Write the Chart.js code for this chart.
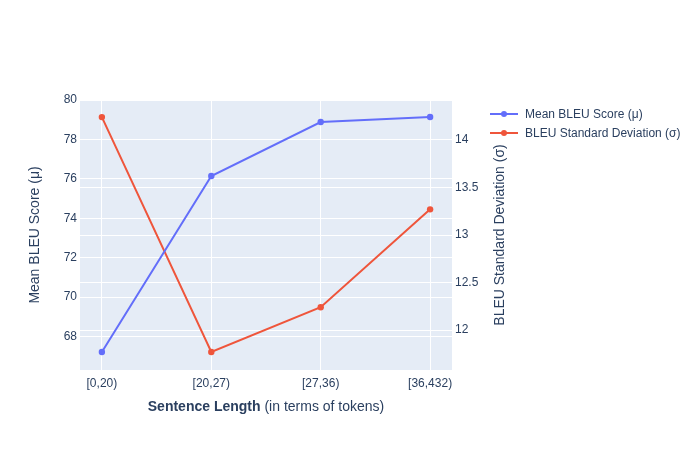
<!DOCTYPE html>
<html><head><meta charset="utf-8">
<script src="https://cdn.jsdelivr.net/npm/chart.js@4/dist/chart.umd.min.js"></script>
<style>html,body{margin:0;padding:0;background:#fff}#wrap{width:700px;height:450px;position:relative}</style>
</head><body><div id="wrap"><canvas id="c" width="700" height="450"></canvas></div>
<script>
const categories = ["[0,20)", "[20,27)", "[27,36)", "[36,432)"];
const meanBleu = [67.21, 76.14, 78.88, 79.14];
const stdBleu = [14.24, 11.77, 12.24, 13.27];
const leftTicks = [68, 70, 72, 74, 76, 78, 80];
const rightTicks = [12, 12.5, 13, 13.5, 14];
const seriesNames = ["Mean BLEU Score (μ)", "BLEU Standard Deviation (σ)"];
const colors = ["#636efa", "#EF553B"];

const FONT = "'Liberation Sans', Arial, sans-serif";
const TXT = "#2a3f5f";

const bgPlugin = {
  id: 'bg',
  beforeDraw(chart) {
    const {ctx, chartArea: a} = chart;
    ctx.save();
    ctx.fillStyle = '#E5ECF6';
    ctx.fillRect(a.left, a.top, a.right - a.left, a.bottom - a.top);
    ctx.restore();
  },
  afterDraw(chart) {
    const {ctx, chartArea: a} = chart;
    ctx.save();
    // x title
    const b = "Sentence Length", n = " (in terms of tokens)";
    ctx.font = "bold 14px " + FONT;
    const wb = ctx.measureText(b).width;
    ctx.font = "14px " + FONT;
    const wn = ctx.measureText(n).width;
    const cx = (a.left + a.right) / 2;
    let x0 = cx - (wb + wn) / 2;
    ctx.fillStyle = TXT;
    ctx.textBaseline = 'middle';
    ctx.textAlign = 'left';
    ctx.font = "bold 14px " + FONT;
    ctx.fillText(b, x0, 407);
    ctx.font = "14px " + FONT;
    ctx.fillText(n, x0 + wb, 407);
    // legend
    ctx.font = "12px " + FONT;
    seriesNames.forEach((name, i) => {
      const y = 114 + i * 19;
      ctx.strokeStyle = colors[i];
      ctx.lineWidth = 2;
      ctx.beginPath(); ctx.moveTo(490, y); ctx.lineTo(518, y); ctx.stroke();
      ctx.fillStyle = colors[i];
      ctx.beginPath(); ctx.arc(504, y, 3, 0, Math.PI * 2); ctx.fill();
      ctx.fillStyle = TXT;
      ctx.fillText(name, 525, y + 1);
    });
    // y titles
    const mid = (a.top + a.bottom) / 2;
    [[35, seriesNames[0]], [500, seriesNames[1]]].forEach(([x, t]) => {
      ctx.save();
      ctx.translate(x, mid);
      ctx.rotate(-Math.PI / 2);
      ctx.font = "14px " + FONT;
      ctx.fillStyle = TXT;
      ctx.textAlign = 'center';
      ctx.textBaseline = 'middle';
      ctx.fillText(t, 0, 0);
      ctx.restore();
    });
    ctx.restore();
  }
};

new Chart(document.getElementById('c'), {
  type: 'line',
  data: {
    datasets: [
      {label: seriesNames[0], data: meanBleu.map((v, i) => ({x: i, y: v})), yAxisID: 'y',
       borderColor: colors[0], backgroundColor: colors[0], borderWidth: 2, pointRadius: 3.2, pointBorderWidth: 0, pointHoverRadius: 3, tension: 0},
      {label: seriesNames[1], data: stdBleu.map((v, i) => ({x: i, y: v})), yAxisID: 'y1',
       borderColor: colors[1], backgroundColor: colors[1], borderWidth: 2, pointRadius: 3.2, pointBorderWidth: 0, pointHoverRadius: 3, tension: 0}
    ]
  },
  options: {
    responsive: false,
    animation: false,
    events: [],
    layout: {padding: {left: 0, right: 0, top: 100, bottom: 0}},
    plugins: {legend: {display: false}, tooltip: {enabled: false}},
    scales: {
      x: {
        type: 'linear', min: -0.2, max: 3.2,
        afterBuildTicks(s) { s.ticks = categories.map((c, i) => ({value: i})); },
        afterFit(s) { s.height = 80; },
        ticks: {autoSkip: false, maxRotation: 0, padding: 6, color: TXT, font: {family: FONT, size: 12},
                callback: (v) => categories[v]},
        grid: {color: '#fff', lineWidth: 1, drawTicks: false},
        border: {display: false}
      },
      y: {
        position: 'left', min: 66.3, max: 80,
        afterBuildTicks(s) { s.ticks = leftTicks.map(v => ({value: v})); },
        afterFit(s) { s.width = 80; },
        ticks: {padding: 3, color: TXT, font: {family: FONT, size: 12}, callback: (v) => String(v)},
        grid: {color: '#fff', lineWidth: 1, drawTicks: false},
        border: {display: false}
      },
      y1: {
        position: 'right', min: 11.58, max: 14.42,
        afterBuildTicks(s) { s.ticks = rightTicks.map(v => ({value: v})); },
        afterFit(s) { s.width = 248; },
        ticks: {padding: 3, color: TXT, font: {family: FONT, size: 12}, callback: (v) => String(v)},
        grid: {color: '#fff', lineWidth: 1, drawTicks: false},
        border: {display: false}
      }
    }
  },
  plugins: [bgPlugin]
});
</script>
</body></html>
